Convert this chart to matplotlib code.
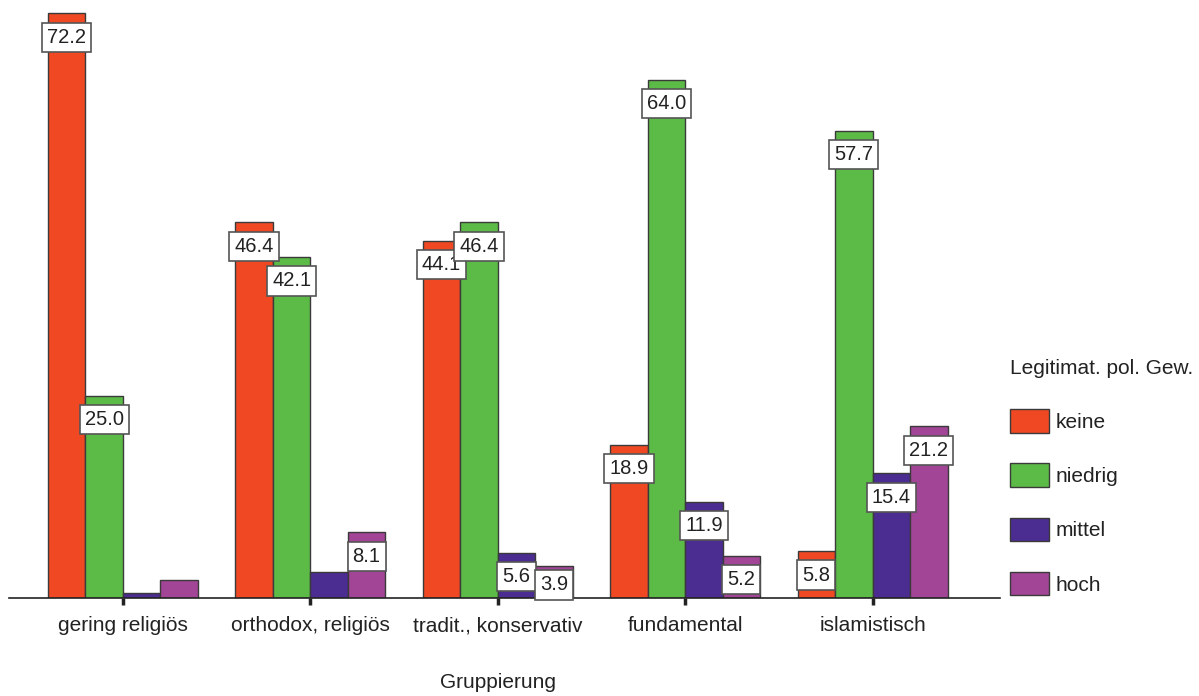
import matplotlib.pyplot as plt
import numpy as np

plt.rcParams['font.family'] = ['Liberation Sans', 'DejaVu Sans']

# Daten
gruppen = ['gering religiös', 'orthodox, religiös', 'tradit., konservativ',
           'fundamental', 'islamistisch']
stufen = ['keine', 'niedrig', 'mittel', 'hoch']
keine = [72.2, 46.4, 44.1, 18.9, 5.8]
niedrig = [25.0, 42.1, 46.4, 64.0, 57.7]
mittel = [0.6, 3.2, 5.6, 11.9, 15.4]
hoch = [2.2, 8.1, 3.9, 5.2, 21.2]
# Beschriftungen (None = keine Beschriftung im Original)
lab_keine = ['72.2', '46.4', '44.1', '18.9', '5.8']
lab_niedrig = ['25.0', '42.1', '46.4', '64.0', '57.7']
lab_mittel = [None, None, '5.6', '11.9', '15.4']
lab_hoch = [None, '8.1', '3.9', '5.2', '21.2']

farben = ['#EF4823', '#5CBB47', '#4B2C90', '#A24597']

W, H = 1199, 696
fig = plt.figure(figsize=(W / 100, H / 100), dpi=100)
ax = fig.add_axes([9 / W, 1 - 598 / H, (1000 - 9) / W, 598 / H])

x = np.arange(len(gruppen))
breite = 0.2
serien = [keine, niedrig, mittel, hoch]
labels = [lab_keine, lab_niedrig, lab_mittel, lab_hoch]
ymax = 598 / 8.1
px = ymax / 598  # Daten pro Pixel

for i, (werte, labs) in enumerate(zip(serien, labels)):
    pos = x + (i - 1.5) * breite
    ax.bar(pos, werte, breite, color=farben[i], edgecolor='#3a3a3a',
           linewidth=1.0, label=stufen[i], zorder=2)
    for p, v, l in zip(pos, werte, labs):
        if l is None:
            continue
        y = max(v - 24 * px, 13 * px)
        ax.text(p, y, l, ha='center', va='center', fontsize=14.5, color='#222222',
                zorder=4,
                bbox=dict(boxstyle='square,pad=0.25', fc='white', ec='#555555', lw=1.2))

ax.set_xlim(-0.608, 4.68)
ax.set_ylim(0, ymax)
for s in ['top', 'right', 'left']:
    ax.spines[s].set_visible(False)
ax.spines['bottom'].set_color('#222222')
ax.spines['bottom'].set_linewidth(1.2)
ax.set_yticks([])
ax.set_xticks(x)
ax.set_xticklabels(gruppen, fontsize=15, color='#222222')
ax.tick_params(axis='x', length=5, width=2.5, color='#222222', pad=8)

fig.text(498 / W, 1 - 683 / H, 'Gruppierung', ha='center', va='center',
         fontsize=15, color='#222222')

leg = fig.legend(loc='upper left', bbox_to_anchor=(1000 / W, 1 - 349 / H),
                 frameon=False, title='Legitimat. pol. Gew.', fontsize=15,
                 title_fontsize=15, handlelength=1.85, handleheight=1.35,
                 labelspacing=1.48, handletextpad=0.3, borderpad=0,
                 alignment='left')
for t in leg.get_texts():
    t.set_color('#222222')
leg.get_title().set_color('#222222')

fig.savefig('out.png', dpi=100)
